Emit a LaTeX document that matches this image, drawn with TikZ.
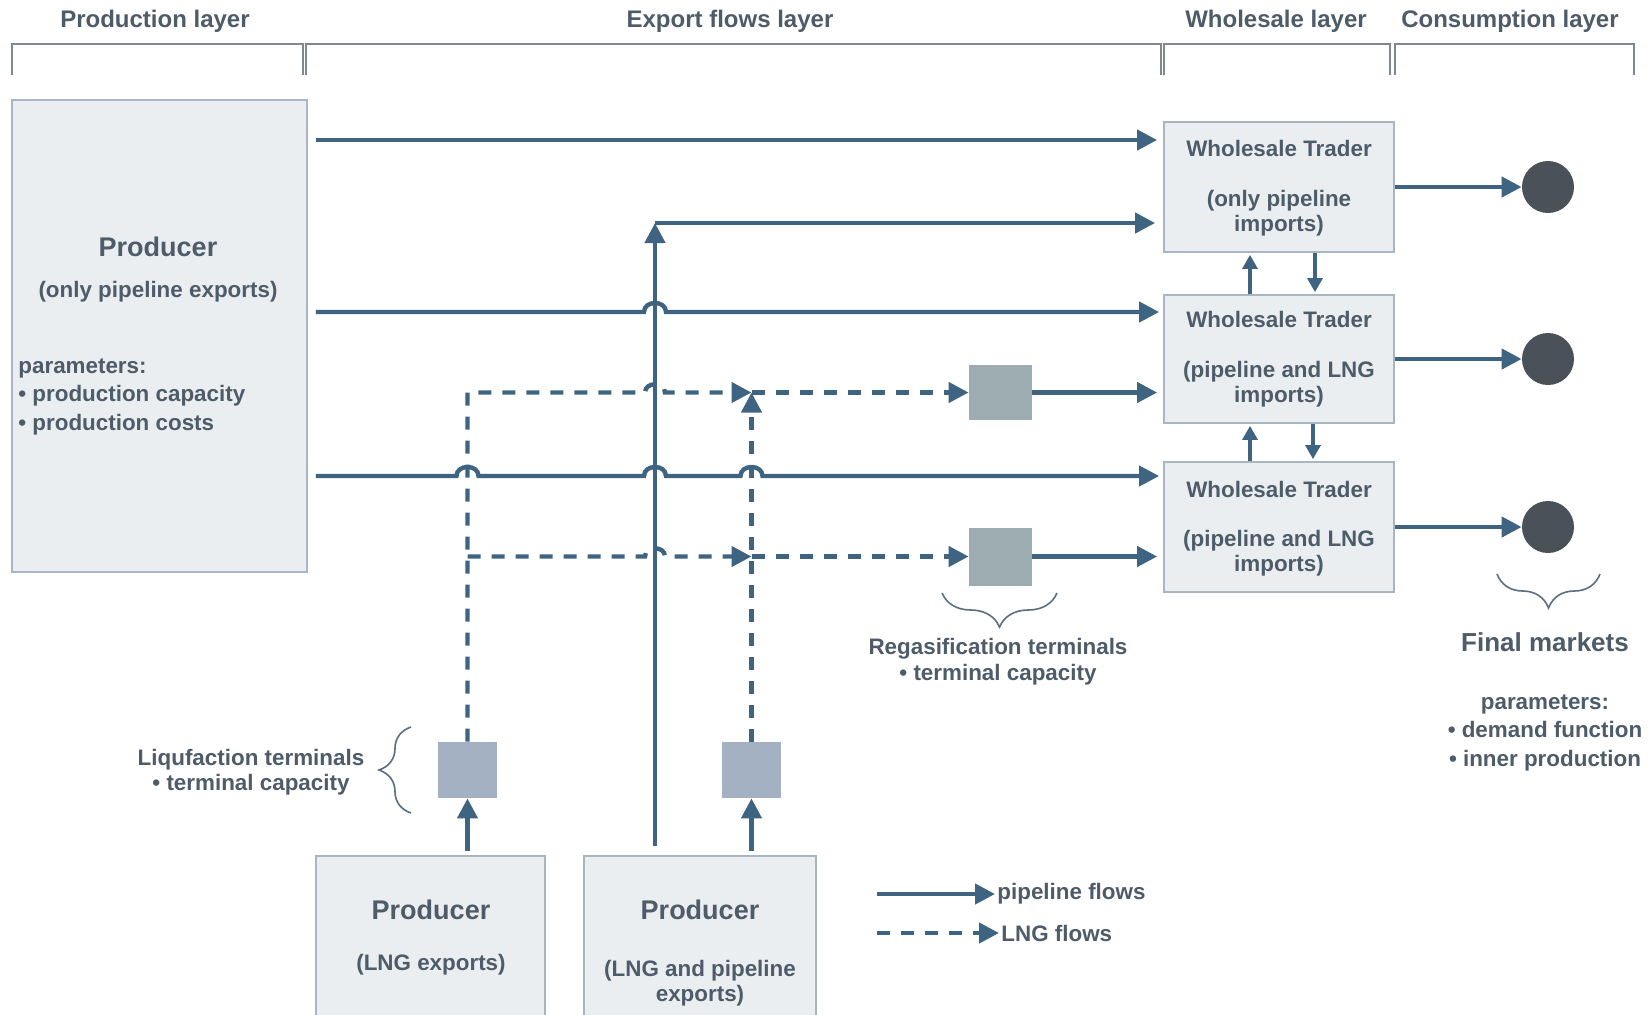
\documentclass[tikz,border=0pt]{standalone}
\usepackage{fontspec}
\setmainfont{Liberation Sans}
\usetikzlibrary{arrows.meta,calc,decorations.pathreplacing}
\definecolor{flow}{HTML}{3E6482}
\definecolor{txt}{HTML}{4E5C69}
\definecolor{boxfill}{HTML}{EAEEF1}
\definecolor{boxline}{HTML}{A9B6C2}
\definecolor{regas}{HTML}{9DACB1}
\definecolor{liq}{HTML}{A3B1C2}
\definecolor{mkt}{HTML}{4A5159}
\definecolor{brk}{HTML}{7E8891}
\definecolor{brc}{HTML}{5C6F80}
\begin{document}
\begin{tikzpicture}[x=0.5pt,y=-0.5pt,
  box/.style={draw=boxline, fill=boxfill, line width=0.9pt, inner sep=0pt},
  regasbox/.style={fill=regas, draw=none, minimum width=31.5pt, minimum height=27.5pt, inner sep=0pt},
  liqbox/.style={fill=liq, draw=none, minimum width=29.5pt, minimum height=28pt, inner sep=0pt},
  market/.style={circle, fill=mkt, minimum size=26pt, inner sep=0pt},
  tt/.style={text=txt, inner sep=1pt, font=\fontsize{11.2}{12.5}\selectfont\bfseries},
  ttitle/.style={text=txt, inner sep=1pt, font=\fontsize{12}{14}\selectfont\bfseries},
  tprod/.style={text=txt, inner sep=1pt, font=\fontsize{13.5}{15}\selectfont\bfseries},
  tlist/.style={text=txt, inner sep=1pt, font=\fontsize{11.2}{14.25}\selectfont\bfseries},
  pipe/.style={draw=flow, line width=2.2pt, -{Triangle[length=10pt,width=10pt]}},
  lng/.style={pipe, dash pattern=on 6.5pt off 5.5pt},
  small/.style={draw=flow, line width=1.6pt, -{Triangle[length=7pt,width=7.5pt]}},
  brkt/.style={draw=brk, line width=1.3pt},
  brace/.style={draw=brc, line width=0.8pt, decorate, decoration={brace, amplitude=#1}}
]
\path[use as bounding box] (0,0) rectangle (1651,1014);
\clip (0,0) rectangle (1651,1014);
\fill[white] (0,0) rectangle (1651,1014);

% layer headers
\node[ttitle] (h1) at (155,21) {Production layer};
\node[ttitle] (h2) at (730,21) {Export flows layer};
\node[ttitle] (h3) at (1276,21) {Wholesale layer};
\node[ttitle] (h4) at (1510,21) {Consumption layer};
\draw[brkt] (12,75) |- (303,44) -- (303,75);
\draw[brkt] (306,75) |- (1161,44) -- (1161,75);
\draw[brkt] (1164,75) |- (1390,44) -- (1390,75);
\draw[brkt] (1395,75) |- (1634,44) -- (1634,75);

% boxes
\node[box, minimum width=147.5pt, minimum height=236pt] (P1) at (159.5,336) {};
\node[box, minimum width=115pt, minimum height=65pt] (WT1) at (1279,187) {};
\node[box, minimum width=115pt, minimum height=64pt] (WT2) at (1279,359) {};
\node[box, minimum width=115pt, minimum height=65pt] (WT3) at (1279,527) {};
\node[regasbox] (R1) at (1000.5,392.5) {};
\node[regasbox, minimum height=29pt] (R2) at (1000.5,556.5) {};
\node[liqbox] (L1) at (467.5,770) {};
\node[liqbox] (L2) at (751.5,770) {};
\node[box, minimum width=114.5pt, minimum height=92pt, anchor=north] (PL) at (430.5,855) {};
\node[box, minimum width=116pt, minimum height=92pt, anchor=north] (PB) at (700,855) {};
\node[market] (M1) at (1548,187) {};
\node[market] (M2) at (1548,359) {};
\node[market] (M3) at (1548,527) {};

% texts
\node[tprod] (P1t) at (158,247) {Producer};
\node[tt] (P1s) at (158,292) {(only pipeline exports)};
\node[tlist, anchor=west, align=left] (P1p) at (16,397) {parameters:\\\textbullet\ production capacity\\\textbullet\ production costs};
\node[tt] (W1t) at (1279,148) {Wholesale Trader};
\node[tt, align=center] (W1s) at (1279,213) {(only pipeline\\imports)};
\node[tt] (W2t) at (1279,319) {Wholesale Trader};
\node[tt, align=center] (W2s) at (1279,384.5) {(pipeline and LNG\\imports)};
\node[tt] (W3t) at (1279,489) {Wholesale Trader};
\node[tt, align=center] (W3s) at (1279,553.5) {(pipeline and LNG\\imports)};
\node[tprod] (PLt) at (431,910) {Producer};
\node[tt] (PLs) at (431,965) {(LNG exports)};
\node[tprod] (PBt) at (700,910) {Producer};
\node[tt, align=center] (PBs) at (700,983) {(LNG and pipeline\\exports)};
\node[tt, align=center, font=\fontsize{11.2}{13}\selectfont\bfseries] (Rt) at (998,662) {Regasification terminals\\\textbullet\ terminal capacity};
\node[tt, align=center, font=\fontsize{11.2}{12.5}\selectfont\bfseries] (Lt) at (251,772) {Liqufaction terminals\\\textbullet\ terminal capacity};
\node[tprod, font=\fontsize{13}{15}\selectfont\bfseries] (Ft) at (1545,642) {Final markets};
\node[tlist, align=center] (Fp) at (1545,733) {parameters:\\\textbullet\ demand function\\\textbullet\ inner production};

% braces
\draw[brace=17pt] (1057,593) -- (942,593);
\draw[brace=17pt] (1600,574) -- (1497,574);
\draw[brace=16pt] (411,813) -- (411,727);

% coordinates of flow levels
\coordinate (a1) at ($(WT1.west)+(0,-47)$);
\coordinate (a2) at ($(WT1.west)+(0,36)$);
\coordinate (b1) at ($(WT2.west)+(0,-47)$);
\coordinate (c1) at ($(WT3.west)+(0,-51)$);
\coordinate (v0) at ($(PB.north)+(-45,-9)$);
\coordinate (vtop) at (v0 |- a2);
\coordinate (j1) at (L2.north |- R1.west);
\coordinate (j2) at (L2.north |- R2.west);

% LNG flows
\draw[lng] (L1.north) -- (L1.north |- j1) -- ($(v0 |- j1)+(-10,0)$) .. controls +(0,-11) and +(0,-11) .. ($(v0 |- j1)+(10,0)$) -- (j1);
\draw[lng] (j1) -- (R1.west);
\draw[lng] (L1.north |- j2) -- ($(v0 |- j2)+(-10,0)$) .. controls +(0,-11) and +(0,-11) .. ($(v0 |- j2)+(10,0)$) -- (j2);
\draw[lng] (j2) -- (R2.west);
\draw[lng] (L2.north) -- (j1);

% pipeline flows
\draw[pipe, shorten >=3pt] ($(P1.east |- a1)+(8,0)$) -- (a1);
\draw[pipe, shorten >=4pt] (vtop) -- (a2);
\draw[pipe] (v0) -- (vtop);
\draw[pipe, shorten >=2pt] ($(P1.east |- b1)+(8,0)$) -- ($(v0 |- b1)+(-11,0)$) .. controls +(0,-12) and +(0,-12) .. ($(v0 |- b1)+(11,0)$) -- (b1);
\draw[pipe, shorten >=2pt] ($(P1.east |- c1)+(8,0)$)
  -- ($(L1.north |- c1)+(-11,0)$) .. controls +(0,-12) and +(0,-12) .. ($(L1.north |- c1)+(11,0)$)
  -- ($(v0 |- c1)+(-11,0)$) .. controls +(0,-12) and +(0,-12) .. ($(v0 |- c1)+(11,0)$)
  -- ($(L2.north |- c1)+(-11,0)$) .. controls +(0,-12) and +(0,-12) .. ($(L2.north |- c1)+(11,0)$)
  -- (c1);
\draw[pipe, shorten >=3pt] (R1.east) -- (WT2.west |- R1.east);
\draw[pipe, shorten >=3pt] (R2.east) -- (WT3.west |- R2.east);
\draw[pipe] ($(L1.south |- PL.north)+(0,-4)$) -- (L1.south);
\draw[pipe] ($(L2.south |- PB.north)+(0,-4)$) -- (L2.south);

% between wholesale traders
\draw[small, shorten >=1pt] ($(WT2.north)+(-29,0)$) -- ($(WT1.south)+(-29,0)$);
\draw[small, shorten >=1pt] ($(WT1.south)+(36,0)$) -- ($(WT2.north)+(36,0)$);
\draw[small, shorten >=1pt] ($(WT3.north)+(-29,0)$) -- ($(WT2.south)+(-29,0)$);
\draw[small, shorten >=1pt] ($(WT2.south)+(34,0)$) -- ($(WT3.north)+(34,0)$);

% to final markets
\draw[pipe] (WT1.east) -- (M1.west);
\draw[pipe] (WT2.east) -- (M2.west);
\draw[pipe] (WT3.east) -- (M3.west);

% legend
\node[tt, anchor=west] (lp) at (995,894) {pipeline flows};
\node[tt, anchor=west] (ll) at (999,933) {LNG flows};
\coordinate (lp0) at (877,894);
\coordinate (ll0) at (877,933);
\draw[pipe] (lp0) -- (lp.west);
\draw[lng] (ll0) -- (ll.west);
\end{tikzpicture}
\end{document}
